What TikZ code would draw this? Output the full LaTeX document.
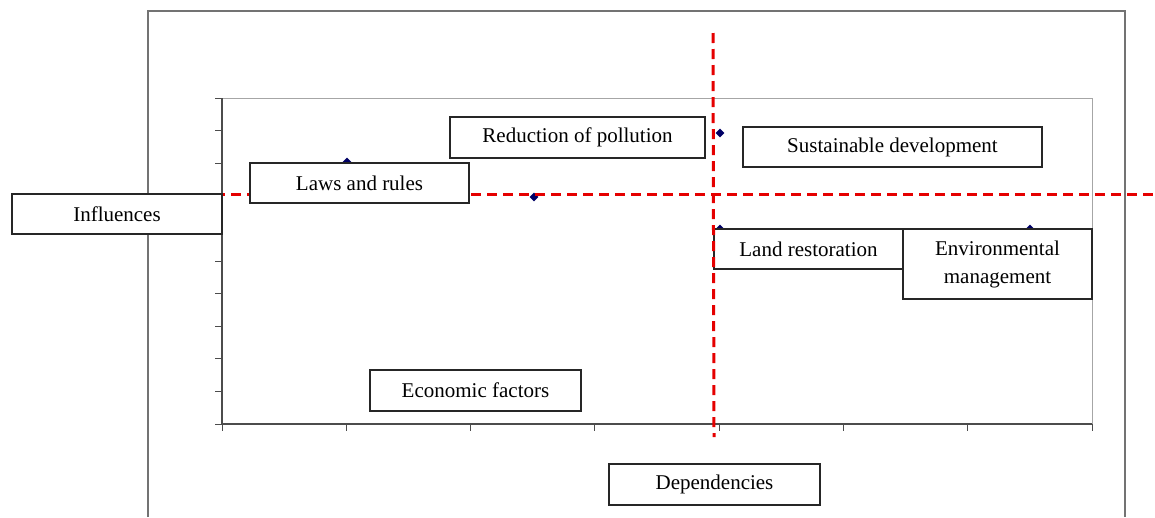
\documentclass[tikz,border=0pt]{standalone}
\usepackage{fontspec}
\setmainfont{Liberation Serif}
\usetikzlibrary{shapes.geometric}

\tikzset{
  box/.style={draw=black!85, line width=1.2pt, fill=white, inner sep=0pt, align=center,
    font=\fontsize{21}{28}\selectfont},
  quad/.style={red!90!black, line width=3pt, dash pattern=on 10pt off 6pt},
  dot/.style={diamond, fill=blue!40!black, inner sep=0pt, minimum size=9pt},
}

\begin{document}
\begin{tikzpicture}[x=1pt,y=-1pt]
\useasboundingbox (0,0) rectangle (1155,517);

\def\xl{222}
\def\xr{1092}
\def\yt{98}
\def\yb{424}

% outer frame, open at the bottom
\draw[gray!90!black, line width=1.2pt] (148,517) -- (148,11) -- (1125,11) -- (1125,517);

% plot area and axes
\draw[gray!70, line width=1pt] (\xl,\yt) -- (\xr,\yt) -- (\xr,\yb);
\draw[gray!60!black, line width=1.2pt] (\xl,\yt) -- (\xl,\yb) -- (\xr,\yb);
\foreach \i in {0,...,10}
  \draw[gray!60!black, line width=1pt] (\xl,{\yt+\i*32.6}) -- ++(-7,0);
\foreach \i in {0,...,7}
  \draw[gray!60!black, line width=1pt] ({\xl+\i*124.3},\yb) -- ++(0,7);

% data points
\foreach \px/\py [count=\k] in {347/162, 534/197, 720/133, 720/229, 1030/229}
  \node[dot] (d\k) at (\px,\py) {};

% horizontal split
\coordinate (hL) at (199,194);
\coordinate (hR) at (1155,194);
\draw[quad] (hL) -- (hR);

% labels
\node[box, minimum width=210pt, minimum height=40pt] (infl) at (117,214) {Influences};
\node[box, minimum width=219pt, minimum height=40pt] (laws) at (359.5,183) {Laws and rules};
\node[box, minimum width=255pt, minimum height=41pt] (poll) at (577.5,137.5) {Reduction of pollution};
\node[box, minimum width=299pt, minimum height=40pt] (sust) at (892.5,147) {Sustainable development};
\node[box, minimum width=189pt, minimum height=40pt] (land) at (808.5,249) {Land restoration};
\node[box, minimum width=189pt, minimum height=70pt] (envm) at (997.5,264) {Environmental\\management};
\node[box, minimum width=211pt, minimum height=41pt] (econ) at (475.5,390.5) {Economic factors};
\node[box, minimum width=211pt, minimum height=41pt] (depn) at (714.5,484.5) {Dependencies};

% vertical split
\coordinate (vT) at (713,33);
\coordinate (vB) at (714,437);
\draw[quad] (vT) -- (vB);

\end{tikzpicture}
\end{document}
